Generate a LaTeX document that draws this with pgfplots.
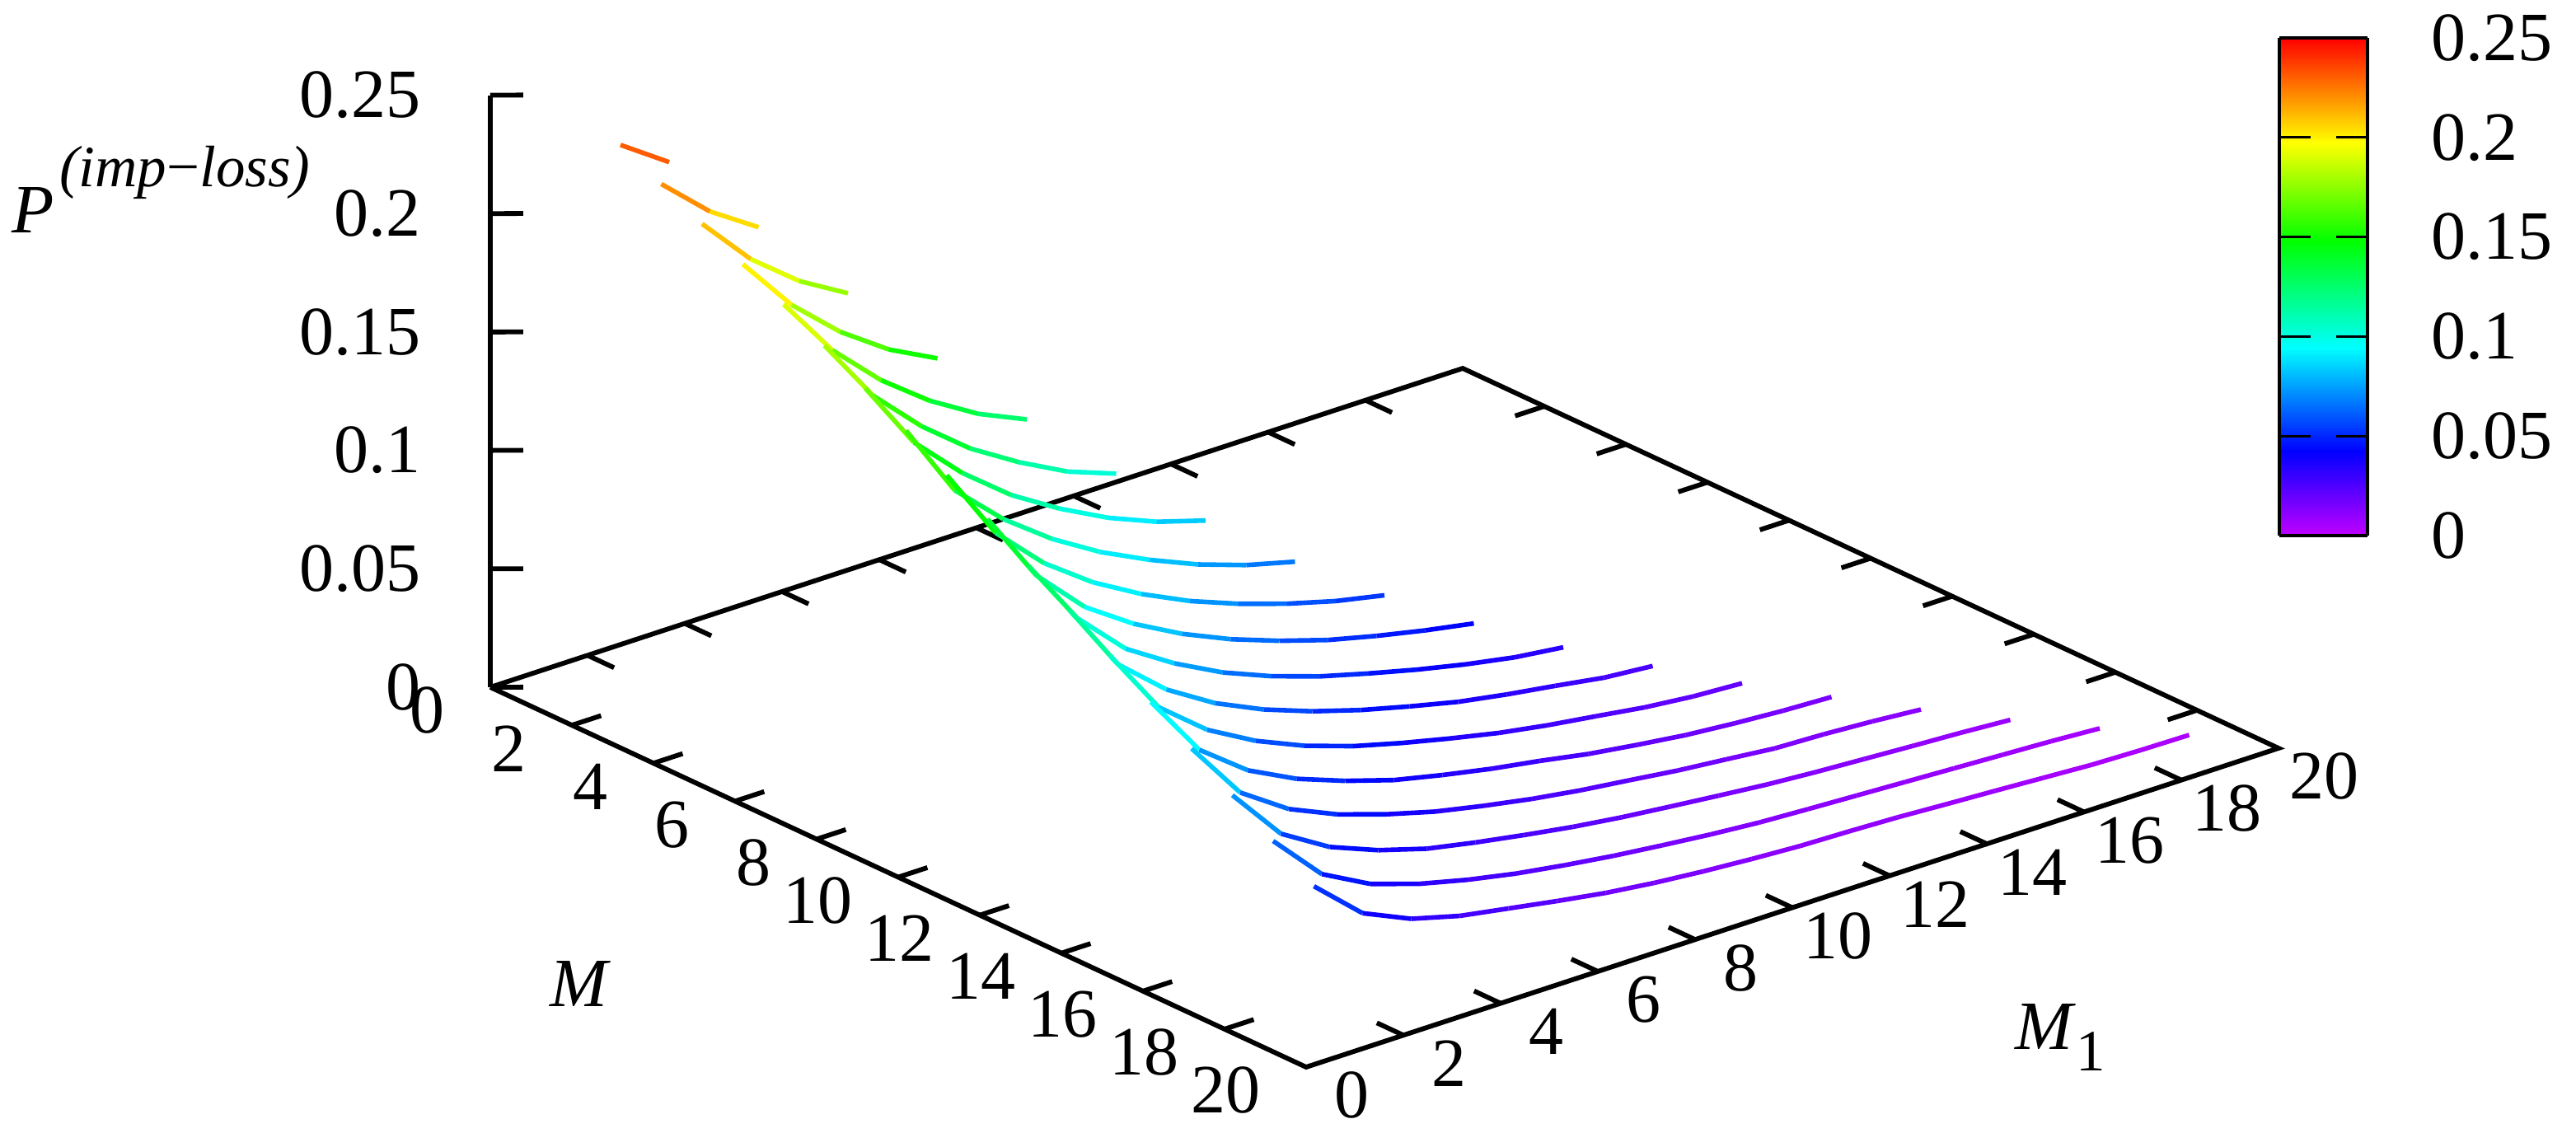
\documentclass[border=0pt]{standalone}
\usepackage{fontspec}
\setmainfont{Liberation Serif}
\usepackage{pgfplots}
\pgfplotsset{compat=1.18}

\pgfplotsset{
	colormap={gp}{rgb255(0)=(192,0,255) rgb255(425)=(0,0,255) rgb255(945)=(0,255,255) rgb255(1480)=(0,255,0) rgb255(1975)=(255,255,0) rgb255(2500)=(255,0,0)},
	curve/.style={mesh, line width=1.4pt, point meta=z, no marks},
	frameline/.style={black, line width=1.45pt, no marks},
}
\newcommand{\bigfont}{\fontsize{21}{25}\selectfont}
\newcommand{\subfont}{\fontsize{17.75}{20}\selectfont}

\begin{document}
\begin{tikzpicture}
% page = reference size, 1 px = 0.25pt, origin of the base at (595,834)
\path[use as bounding box] (-148.75pt,208.5pt) rectangle (632.75pt,-135pt);

\begin{axis}[
	anchor=origin, at={(0pt,0pt)},
	x={(12.375pt,-5.7625pt)}, y={(14.75pt,4.8375pt)}, z={(0pt,718.5pt)},
	xmin=0, xmax=20, ymin=0, ymax=20, zmin=0, zmax=0.25,
	clip=false,
	colormap name=gp,
	point meta min=0, point meta max=0.25,
	axis line style={draw=none},
	tick style={draw=none},
	major tick length=0pt,
	xtick={0,2,...,20}, ytick={0,2,...,20},
	ztick={0,0.05,0.1,0.15,0.2,0.25},
	zticklabels={0,0.05,0.1,0.15,0.2,0.25},
	/pgf/number format/assume math mode=true,
	tick label style={font=\bigfont, inner sep=0pt},
	xticklabel style={anchor=east, xshift=-13.75pt, yshift=-7.1pt},
	yticklabel style={anchor=center, xshift=13.75pt, yshift=-8.6pt},
	zticklabel style={anchor=east, xshift=-21pt},
	xlabel={\textit{M}},
	ylabel={\textit{M}\raisebox{-6.5pt}{\subfont 1}},
	zlabel={\textit{P}\kern1.5pt\raisebox{13.9pt}{\subfont\textit{(imp}−\textit{loss)}}},
	label style={font=\bigfont, inner sep=0pt},
	xlabel style={at={(axis cs:10.07,-6.6,0)}, anchor=center},
	ylabel style={at={(axis cs:26.72,9.87,0)}, anchor=center},
	every axis z label/.style={at={(axis cs:0,0,0.192)}, anchor=base west, xshift=-145.25pt, font=\bigfont, inner sep=0pt},
	colorbar sampled,
	colorbar style={
		at={(534.25pt,46pt)}, anchor=south west,
		width=26.75pt, height=151pt,
		scale only axis,
		samples=251,
		ymin=0, ymax=0.25,
		ytick={0,0.05,0.1,0.15,0.2,0.25},
		yticklabels={0,0.05,0.1,0.15,0.2,0.25},
		ytick align=inside,
		ytick pos=both,
		yticklabel pos=right,
		major tick length=9.5pt,
		tick style={draw=black, line width=0.8pt},
		axis line style={draw=black, line width=1pt},
		yticklabel style={font=\bigfont, anchor=west, inner sep=0pt, xshift=19.25pt},
	},
]

% base frame and z axis
\addplot3[frameline] coordinates {(0,0,0)(20,0,0)(20,20,0)(0,20,0)(0,0,0)};
\addplot3[frameline] coordinates {(0,0,0)(0,0,0.25)};

% ticks
\pgfplotsinvokeforeach{2,4,...,18}{
	\addplot3[frameline] coordinates {(#1,0,0)(#1,0.6,0)};
	\addplot3[frameline] coordinates {(#1,20,0)(#1,19.4,0)};
	\addplot3[frameline] coordinates {(20,#1,0)(19.35,#1,0)};
	\addplot3[frameline] coordinates {(0,#1,0)(0.65,#1,0)};
}
\pgfplotsinvokeforeach{0,0.05,0.1,0.15,0.2,0.25}{
	\addplot3[frameline] coordinates {(0,0,#1)(0.33,0.40,#1)};
}

% one curve per M, M1 = 1..M
\addplot3[curve] coordinates {(2,1,.2383)(2,2,.2243)};
\addplot3[curve] coordinates {(3,1,.2298)(3,2,.2115)(3,3,.1981)};
\addplot3[curve] coordinates {(4,1,.2210)(4,2,.1994)(4,3,.1834)(4,4,.1715)};
\addplot3[curve] coordinates {(5,1,.2120)(5,2,.1881)(5,3,.1700)(5,4,.1558)(5,5,.1453)};
\addplot3[curve] coordinates {(6,1,.2031)(6,2,.1770)(6,3,.1576)(6,4,.1422)(6,5,.1299)(6,6,.1208)};
\addplot3[curve] coordinates {(7,1,.1937)(7,2,.1658)(7,3,.1461)(7,4,.1300)(7,5,.1175)(7,6,.1068)(7,7,.0992)};
\addplot3[curve] coordinates {(8,1,.1837)(8,2,.1541)(8,3,.1344)(8,4,.1184)(8,5,.1059)(8,6,.0953)(8,7,.0869)(8,8,.0807)};
\addplot3[curve] coordinates {(9,1,.1738)(9,2,.1419)(9,3,.1230)(9,4,.1079)(9,5,.0956)(9,6,.0856)(9,7,.0769)(9,8,.0699)(9,9,.0646)};
\addplot3[curve] coordinates {(10,1,.1630)(10,2,.1320)(10,3,.1124)(10,4,.0976)(10,5,.0859)(10,6,.0762)(10,7,.0683)(10,8,.0616)(10,9,.0560)(10,10,.0517)};
\addplot3[curve] coordinates {(11,1,.1525)(11,2,.1220)(11,3,.1019)(11,4,.0881)(11,5,.0771)(11,6,.0681)(11,7,.0607)(11,8,.0543)(11,9,.0493)(11,10,.0449)(11,11,.0411)};
\addplot3[curve] coordinates {(12,1,.1408)(12,2,.1120)(12,3,.0923)(12,4,.0794)(12,5,.0688)(12,6,.0605)(12,7,.0537)(12,8,.0482)(12,9,.0431)(12,10,.0386)(12,11,.0348)(12,12,.0323)};
\addplot3[curve] coordinates {(13,1,.1302)(13,2,.1005)(13,3,.0831)(13,4,.0706)(13,5,.0612)(13,6,.0537)(13,7,.0475)(13,8,.0423)(13,9,.0375)(13,10,.0339)(13,11,.0308)(13,12,.0275)(13,13,.0257)};
\addplot3[curve] coordinates {(14,1,.1189)(14,2,.0904)(14,3,.0741)(14,4,.0627)(14,5,.0539)(14,6,.0470)(14,7,.0416)(14,8,.0368)(14,9,.0324)(14,10,.0289)(14,11,.0260)(14,12,.0230)(14,13,.0209)(14,14,.0197)};
\addplot3[curve] coordinates {(15,1,.1074)(15,2,.0804)(15,3,.0650)(15,4,.0547)(15,5,.0471)(15,6,.0407)(15,7,.0361)(15,8,.0320)(15,9,.0286)(15,10,.0248)(15,11,.0219)(15,12,.0193)(15,13,.0175)(15,14,.0161)(15,15,.0152)};
\addplot3[curve] coordinates {(16,1,.0957)(16,2,.0704)(16,3,.0567)(16,4,.0477)(16,5,.0410)(16,6,.0354)(16,7,.0311)(16,8,.0273)(16,9,.0242)(16,10,.0217)(16,11,.0191)(16,12,.0171)(16,13,.0150)(16,14,.0142)(16,15,.0129)(16,16,.0112)};
\addplot3[curve] coordinates {(17,1,.0840)(17,2,.0610)(17,3,.0487)(17,4,.0406)(17,5,.0345)(17,6,.0304)(17,7,.0268)(17,8,.0235)(17,9,.0208)(17,10,.0186)(17,11,.0165)(17,12,.0145)(17,13,.0130)(17,14,.0118)(17,15,.0106)(17,16,.0095)(17,17,.0081)};
\addplot3[curve] coordinates {(18,1,.0727)(18,2,.0520)(18,3,.0411)(18,4,.0344)(18,5,.0294)(18,6,.0253)(18,7,.0221)(18,8,.0193)(18,9,.0170)(18,10,.0149)(18,11,.0132)(18,12,.0121)(18,13,.0111)(18,14,.0101)(18,15,.0091)(18,16,.0081)(18,17,.0071)(18,18,.0058)};
\addplot3[curve] coordinates {(19,1,.0616)(19,2,.0435)(19,3,.0344)(19,4,.0289)(19,5,.0253)(19,6,.0217)(19,7,.0184)(19,8,.0159)(19,9,.0140)(19,10,.0125)(19,11,.0113)(19,12,.0107)(19,13,.0099)(19,14,.0087)(19,15,.0076)(19,16,.0064)(19,17,.0052)(19,18,.0046)(19,19,.0043)};

\end{axis}
\end{tikzpicture}
\end{document}
